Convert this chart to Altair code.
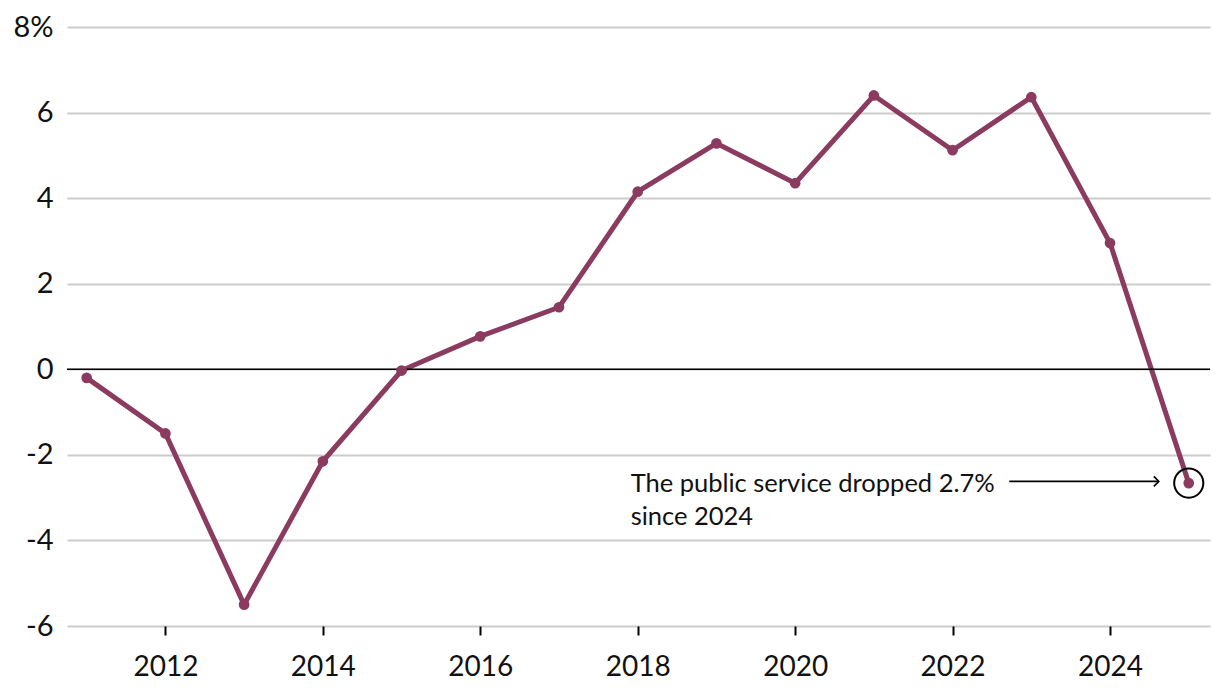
import altair as alt
import pandas as pd

years = list(range(2011, 2026))
values = [-0.2, -1.5, -5.5, -2.15, -0.03, 0.77, 1.45, 4.15, 5.28, 4.35, 6.4, 5.12, 6.36, 2.95, -2.66]
y_ticks = [-6, -4, -2, 0, 2, 4, 6, 8]
x_ticks = [2012, 2014, 2016, 2018, 2020, 2022, 2024]
note_lines = ["The public service dropped 2.7%", "since 2024"]

FONT = "Lato"
COLOR = "#8a3b5f"

df = pd.DataFrame({"year": years, "value": values})

xs = alt.Scale(domain=[2010.75, 2025.27], nice=False, zero=False)
ys = alt.Scale(domain=[-6, 8], nice=False, zero=False)

base = alt.Chart(df)

line = base.mark_line(color=COLOR, strokeWidth=5).encode(
    x=alt.X("year:Q", scale=xs, axis=alt.Axis(
        values=x_ticks, format="d", title=None, grid=False, domain=False,
        tickColor="black", tickWidth=2, tickSize=9, labelPadding=18,
        labelFont=FONT, labelFontSize=28, labelColor="#111")),
    y=alt.Y("value:Q", scale=ys, axis=alt.Axis(
        values=y_ticks, title=None, domain=False, ticks=False,
        labelExpr="datum.value == 8 ? '8%' : replace(datum.label, '\u2212', '-')",
        gridColor="#cccccc", gridWidth=2, labelPadding=14,
        labelFont=FONT, labelFontSize=29, labelColor="#111")),
)
points = base.mark_circle(color=COLOR, size=115, opacity=1).encode(x="year:Q", y="value:Q")

zero = alt.Chart(pd.DataFrame({"z": [0]})).mark_rule(color="black", strokeWidth=1.5).encode(y=alt.Y("z:Q", scale=ys))

last = df.iloc[[-1]]
ring = alt.Chart(last).mark_point(shape="circle", size=850, filled=False, color="black", strokeWidth=2, opacity=1).encode(
    x=alt.X("year:Q", scale=xs), y=alt.Y("value:Q", scale=ys))

arrow_df = pd.DataFrame({"x1": [2022.72], "x2": [2024.62], "y": [-2.62]})
arrow_line = alt.Chart(arrow_df).mark_rule(color="black", strokeWidth=1.6).encode(
    x=alt.X("x1:Q", scale=xs), x2="x2:Q", y=alt.Y("y:Q", scale=ys))
arrow_head = alt.Chart(arrow_df).mark_point(
    shape="M-1,-1L0,0L-1,1", size=100, filled=False, color="black", strokeWidth=1.6, opacity=1).encode(
    x=alt.X("x2:Q", scale=xs), y=alt.Y("y:Q", scale=ys))

note_df = pd.DataFrame({"x": [2017.91], "y": [-2.87], "t": [note_lines]})
note = alt.Chart(note_df).mark_text(align="left", baseline="alphabetic", font=FONT, fontSize=25.5,
                                    lineHeight=33, color="#111").encode(
    x=alt.X("x:Q", scale=xs), y=alt.Y("y:Q", scale=ys), text="t")

chart = alt.layer(line, zero, points, ring, arrow_line, arrow_head, note).properties(
    width=1143, height=599,
    autosize=alt.AutoSizeParams(type="none"),
    padding={"left": 59, "top": 19, "right": 2, "bottom": 58},
).configure(background="white").configure_view(stroke=None)

chart.save("out.html", embed_options={"renderer": "svg", "actions": False})
